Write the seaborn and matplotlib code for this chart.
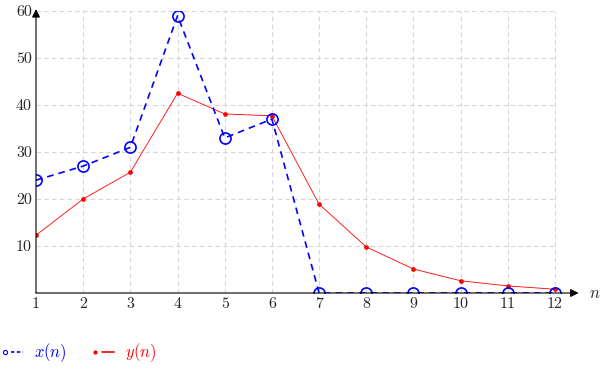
import matplotlib
matplotlib.use("Agg")
import matplotlib.pyplot as plt
from matplotlib.lines import Line2D
from matplotlib.legend_handler import HandlerLine2D
import pandas as pd
import seaborn as sns

# data
n = [1, 2, 3, 4, 5, 6, 7, 8, 9, 10, 11, 12]
x_n = [24, 27, 31, 59, 33, 37, 0, 0, 0, 0, 0, 0]
y_n = [12.3, 20, 25.7, 42.5, 38.1, 37.7, 18.9, 9.8, 5.1, 2.6, 1.5, 0.8]
yticks = [10, 20, 30, 40, 50, 60]

df = pd.DataFrame({'n': n, 'x': x_n, 'y': y_n})

sns.set_style("white")
plt.rcParams['font.family'] = ['cmr10', 'DejaVu Serif']
plt.rcParams['mathtext.fontset'] = 'cm'
plt.rcParams['axes.unicode_minus'] = False


class LeftMarker(HandlerLine2D):
    # marker at the left end, short line after it
    def create_artists(self, legend, orig_handle, xdescent, ydescent,
                       width, height, fontsize, trans):
        x0 = -xdescent
        yc = (height - ydescent) / 2
        line = Line2D([x0 + 0.4 * width, x0 + width], [yc, yc])
        self.update_prop(line, orig_handle, legend)
        line.set_marker('None')
        mk = Line2D([x0 + 0.08 * width], [yc])
        self.update_prop(mk, orig_handle, legend)
        mk.set_linestyle('None')
        line.set_transform(trans)
        mk.set_transform(trans)
        return [line, mk]


fig = plt.figure(figsize=(6, 3.69), dpi=100)
ax = fig.add_axes([36 / 600, 76 / 369, 542.6 / 600, 282 / 369])

# dashed grid, only inside the data box
grid_kw = dict(colors='#d6d6d6', linestyles=(0, (4, 3)), linewidth=0.8, zorder=0)
ax.vlines(n[1:], 0, 60, **grid_kw)
ax.hlines(yticks, 1, 12, **grid_kw)

sns.lineplot(data=df, x='n', y='y', ax=ax, color='red', linewidth=0.6,
             marker='o', markersize=3.4, markeredgewidth=0, zorder=3)
sns.lineplot(data=df, x='n', y='x', ax=ax, color='blue', linewidth=1.2,
             linestyle=(0, (4, 3)), marker='o', markersize=8,
             markerfacecolor='none', markeredgecolor='blue',
             markeredgewidth=1.2, zorder=4)

ax.set_xlim(1, 12.5)
ax.set_ylim(0, 60)
for s in ax.spines.values():
    s.set_visible(False)

# axes with arrow heads
arrow = dict(arrowstyle='-|>', color='black', lw=0.8, mutation_scale=12,
             shrinkA=0, shrinkB=0)
ax.annotate('', xy=(12.5, 0), xytext=(1, 0), arrowprops=arrow,
            annotation_clip=False, zorder=5)
ax.annotate('', xy=(1, 60.4), xytext=(1, 0), arrowprops=arrow,
            annotation_clip=False, zorder=5)
ax.text(12.72, 0, r'$n$', fontsize=12, va='center', ha='left')

ax.set_xticks(n)
ax.set_xticklabels([str(v) for v in n])
ax.set_yticks(yticks)
ax.set_yticklabels([str(v) for v in yticks])
ax.tick_params(length=0, labelsize=11.5, pad=3)
ax.set_xlabel('')
ax.set_ylabel('')

h_x = Line2D([], [], color='blue', linestyle=(0, (2, 1.5)), linewidth=1.2,
             marker='o', markersize=3, markerfacecolor='none', markeredgewidth=0.8)
h_y = Line2D([], [], color='red', linewidth=1.2, marker='o', markersize=3,
             markeredgewidth=0)
leg = fig.legend([h_x, h_y], [r'$x(n)$', r'$y(n)$'], loc='center left',
                 bbox_to_anchor=(0.0, 16 / 369), ncol=2, frameon=False,
                 handlelength=1.2, handletextpad=0.65, columnspacing=1.6,
                 borderaxespad=0.0, borderpad=0.2, fontsize=12,
                 handler_map={Line2D: LeftMarker()})
for t, c in zip(leg.get_texts(), ['blue', 'red']):
    t.set_color(c)

fig.savefig('out.png', dpi=100)
